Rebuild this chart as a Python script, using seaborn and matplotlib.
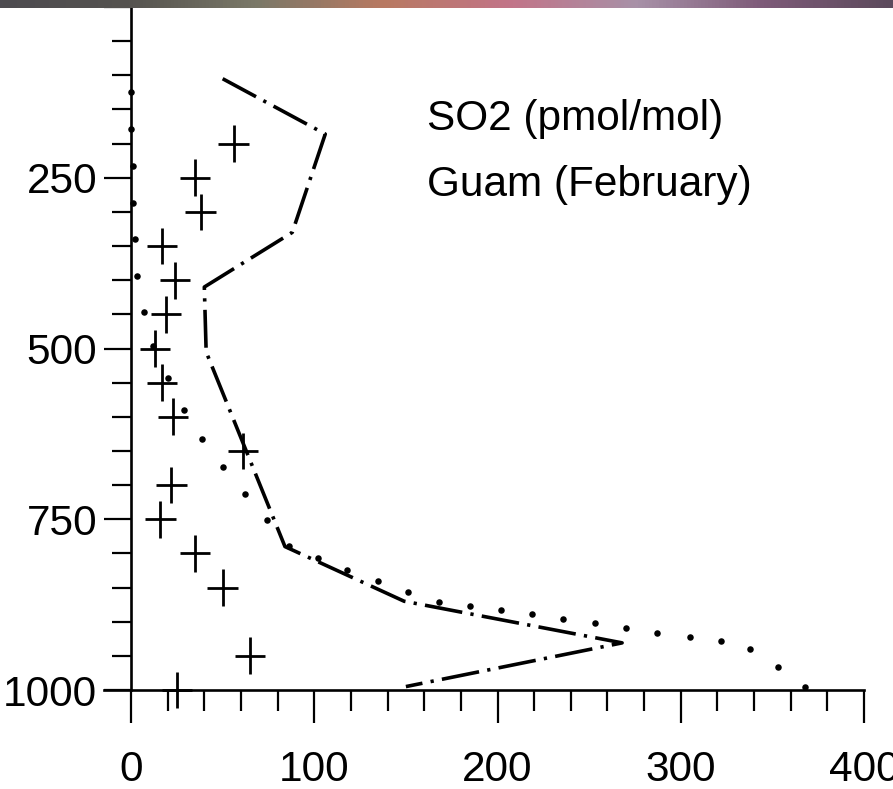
import numpy as np
import pandas as pd
import seaborn as sns
import matplotlib.pyplot as plt
from matplotlib.path import Path
from matplotlib.colors import LinearSegmentedColormap
from matplotlib.ticker import MultipleLocator, FixedLocator

# observed SO2 (plus markers)
obs_so2 = [56, 35, 38, 17, 24, 19, 13, 17, 23, 61, 22, 16, 35, 50, 65, 25]
obs_pres = [200, 250, 300, 350, 400, 450, 500, 550, 600, 650, 700, 750, 800, 850, 950, 1000]

# dotted profile
dot_so2 = [0, 0, 1, 1, 2, 3, 7, 12, 20, 29, 39, 50, 62, 74, 86, 102, 118, 135, 151, 168,
           185, 202, 219, 236, 253, 270, 287, 305, 322, 338, 353, 368]
dot_pres = [125, 179, 233, 287, 340, 394, 446, 497, 543, 590, 632, 673, 713, 751, 789, 807,
            825, 841, 857, 871, 877, 883, 889, 896, 902, 909, 916, 922, 928, 940, 966, 995]

# dash-dot profile
line_so2 = [50, 106, 88, 40, 41, 84, 149, 268, 150]
line_pres = [105, 186, 330, 410, 505, 790, 870, 931, 995]

xticks = [0, 100, 200, 300, 400]
yticks = [0, 250, 500, 750, 1000]
ytick_labels = ['', '250', '500', '750', '1000']

sns.set_theme(style='white')
plt.rcParams['font.family'] = ['Liberation Sans', 'DejaVu Sans']
plt.rcParams['text.color'] = 'black'
plt.rcParams['xtick.labelcolor'] = 'black'
plt.rcParams['ytick.labelcolor'] = 'black'

fs = 30.5

fig = plt.figure(figsize=(8.93, 7.89), dpi=100)
fig.patch.set_facecolor('white')
ax = fig.add_axes([104 / 893, 99 / 789, 760 / 893, 683 / 789])
ax.set_facecolor('white')

df_line = pd.DataFrame({'so2': line_so2, 'p': line_pres})
sns.lineplot(data=df_line, x='so2', y='p', sort=False, color='black', linewidth=2.6, ax=ax)
ax.lines[-1].set_dashes([10.5, 2.3, 0.9, 2.3])

df_dot = pd.DataFrame({'so2': dot_so2, 'p': dot_pres})
sns.scatterplot(data=df_dot, x='so2', y='p', color='black', s=22, linewidth=0,
                clip_on=False, ax=ax)

plus = Path([(-0.83, 0), (0.83, 0), (0, -1), (0, 1)],
            [Path.MOVETO, Path.LINETO, Path.MOVETO, Path.LINETO])
df_obs = pd.DataFrame({'so2': obs_so2, 'p': obs_pres})
sns.scatterplot(data=df_obs, x='so2', y='p', marker=plus, s=700, facecolor='none',
                edgecolor='black', linewidth=2.0, clip_on=False, ax=ax)

ax.set_xlim(-14.75, 400)
ax.set_ylim(1000, 0)
ax.set_xlabel('')
ax.set_ylabel('')

for s in ['top', 'right']:
    ax.spines[s].set_visible(False)
ax.spines['left'].set_position(('data', 0))
for s in ['left', 'bottom']:
    ax.spines[s].set_color('black')
    ax.spines[s].set_linewidth(1.9)

ax.xaxis.set_major_locator(FixedLocator(xticks))
ax.xaxis.set_minor_locator(MultipleLocator(20))
ax.yaxis.set_major_locator(FixedLocator(yticks))
ax.set_yticklabels(ytick_labels)
ax.yaxis.set_minor_locator(MultipleLocator(50))

ax.tick_params(axis='x', which='major', direction='out', length=24, width=1.6,
               color='black', labelsize=fs, pad=19, bottom=True)
ax.tick_params(axis='x', which='minor', direction='out', length=15, width=1.6,
               color='black', bottom=True)
ax.tick_params(axis='y', which='major', direction='out', length=19.5, width=1.6,
               color='black', labelsize=fs, pad=5, left=True)
ax.tick_params(axis='y', which='minor', direction='out', length=13.5, width=1.6,
               color='black', left=True)
ax.grid(False)

ax.text(161.5, 180, 'SO2 (pmol/mol)', fontsize=fs, color='black', va='baseline', ha='left')
ax.text(161.5, 277, 'Guam (February)', fontsize=fs, color='black', va='baseline', ha='left')

# thin coloured strip along the top edge
band = fig.add_axes([0, 1 - 8 / 789, 1, 8 / 789])
band_cmap = LinearSegmentedColormap.from_list(
    'band', ['#4d4b50', '#55534f', '#7a7868', '#b87a62', '#c27488', '#a891a8', '#7d5a78', '#5c4a5c'])
band.imshow(np.linspace(0, 1, 256)[None, :], aspect='auto', cmap=band_cmap)
band.axis('off')

fig.savefig('out.png', dpi=100)
